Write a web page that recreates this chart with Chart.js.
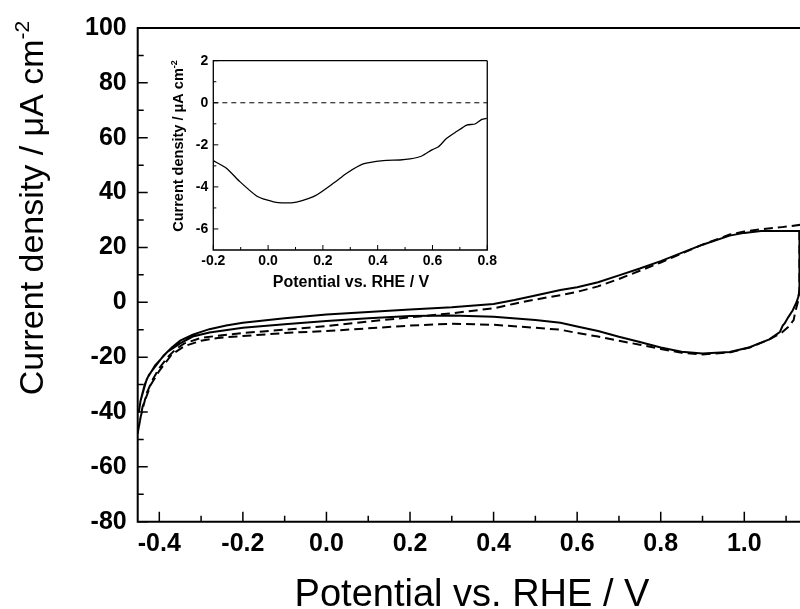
<!DOCTYPE html>
<html>
<head>
<meta charset="utf-8">
<script src="https://cdn.jsdelivr.net/npm/chart.js@4.4.1/dist/chart.umd.min.js"></script>
<style>
  html, body { margin: 0; padding: 0; background: #fff; }
  #wrap  { position: relative; width: 800px; height: 609px; overflow: hidden; }
  #main  { position: absolute; left: 0; top: 0; }
  #inset { position: absolute; left: 160px; top: 45px; }
</style>
</head>
<body>
<div id="wrap">
  <canvas id="main" width="800" height="609"></canvas>
  <canvas id="inset" width="340" height="250"></canvas>
</div>
<script>
/* ------------------------------------------------------------
   DATOS — voltamperometrías (potencial V vs RHE, densidad µA cm-2)
------------------------------------------------------------ */
const cvSolidV = [
  -0.449, -0.445, -0.435, -0.425, -0.41, -0.39, -0.37, -0.35, -0.32, -0.28, -0.24, -0.2,
  -0.1, 0.0, 0.1, 0.2, 0.3, 0.4, 0.45, 0.5, 0.56, 0.6, 0.65, 0.7, 0.75, 0.8, 0.85, 0.9,
  0.965, 1.0, 1.04, 1.1, 1.132, 1.132, 1.125, 1.116, 1.105, 1.097, 1.092, 1.085, 1.06,
  1.037, 1.013, 0.965, 0.9, 0.85, 0.8, 0.75, 0.7, 0.65, 0.6, 0.56, 0.5, 0.4, 0.3, 0.2,
  0.1, 0.0, -0.1, -0.2, -0.28, -0.32, -0.35, -0.38, -0.41, -0.43, -0.445, -0.449,
];
const cvSolidJ = [
  -40, -36, -30, -26.5, -23.5, -19.5, -16.5, -14, -11.8, -9.8, -8.5, -7.5,
  -5.8, -4.5, -3.5, -2.6, -1.8, -0.6, 0.8, 2.5, 4.5, 5.5, 7.3, 9.8, 12.3, 15, 18, 21,
  24.3, 25.3, 26, 26, 26, 3.3, 0, -2.9, -5.5, -7.6, -8.5, -10.9, -13.5,
  -14.9, -16.4, -18.1, -18.7, -18, -16.5, -14.5, -12.6, -10.5, -8.8, -7.5, -6.5, -5.3, -4.8, -5,
  -5.8, -6.8, -8, -9.3, -11, -12.5, -15, -18, -23, -28, -36, -40,
];

const cvDashV = [
  -0.452, -0.445, -0.43, -0.415, -0.4, -0.38, -0.36, -0.34, -0.3, -0.25, -0.2, -0.1,
  0.0, 0.1, 0.2, 0.3, 0.4, 0.45, 0.5, 0.56, 0.6, 0.65, 0.7, 0.75, 0.8, 0.85, 0.9,
  0.965, 1.0, 1.04, 1.09, 1.132, 1.132, 1.128, 1.122, 1.118, 1.105, 1.09, 1.06, 1.037,
  1.013, 0.965, 0.9, 0.85, 0.8, 0.75, 0.7, 0.65, 0.6, 0.56, 0.5, 0.4, 0.3, 0.2, 0.1,
  0.0, -0.1, -0.2, -0.26, -0.3, -0.34, -0.37, -0.4, -0.42, -0.44, -0.452,
];
const cvDashJ = [
  -48, -42, -33, -28, -24, -20, -17, -15, -13, -12, -11.2, -10,
  -8.7, -7, -5.5, -4, -2.2, -0.5, 1, 2.6, 3.8, 5.8, 8.5, 11.5, 14.5, 17.8, 21,
  24.7, 25.8, 26.6, 27.4, 28.2, 5, 0, -3.5, -6.5, -9, -11, -13.5, -15,
  -16.5, -18.3, -19, -18.4, -17, -15.5, -14, -12.5, -11.2, -10, -9.3, -8.2, -7.8, -8.5, -9.5,
  -10.5, -11.2, -12.3, -13, -14, -16, -19, -25, -30, -38, -48,
];

/* inserto: diferencia de densidad de corriente */
const insetV = [
  -0.2, -0.151, -0.103, -0.042, -0.005, 0.037, 0.104, 0.171, 0.238, 0.287, 0.347, 0.42,
  0.481, 0.518, 0.561, 0.598, 0.622, 0.652, 0.688, 0.725, 0.755, 0.78, 0.798,
];
const insetJ = [
  -2.75, -3.12, -3.75, -4.43, -4.62, -4.75, -4.72, -4.43, -3.83, -3.35, -2.91, -2.75,
  -2.72, -2.67, -2.53, -2.24, -2.09, -1.69, -1.37, -1.06, -1.01, -0.79, -0.74,
];
const insetZeroV = [-0.2, 0.8];
const insetZeroJ = [0, 0];

/* ticks */
const mainXTicks  = [-0.4, -0.2, 0.0, 0.2, 0.4, 0.6, 0.8, 1.0];
const mainXMinor  = [-0.3, -0.1, 0.1, 0.3, 0.5, 0.7, 0.9, 1.1];
const mainYTicks  = [-80, -60, -40, -20, 0, 20, 40, 60, 80, 100];
const mainYMinor  = [-70, -50, -30, -10, 10, 30, 50, 70, 90];
const insetXTicks = [-0.2, 0.0, 0.2, 0.4, 0.6, 0.8];
const insetXMinor = [-0.1, 0.1, 0.3, 0.5, 0.7];
const insetYTicks = [-6, -4, -2, 0, 2];
const insetYMinor = [-5, -3, -1, 1];

const FONT = "'Liberation Sans', Arial, sans-serif";

/* ------------------------------------------------------------
   HELPERS
------------------------------------------------------------ */
function pts(xs, ys) {
  return xs.map((x, i) => ({ x, y: ys[i] }));
}

// marcas hacia dentro + marco del área
const frameTicks = {
  id: 'frameTicks',
  afterDatasetsDraw(chart, args, o) {
    const { ctx, chartArea: a, scales: { x, y } } = chart;
    ctx.save();
    ctx.strokeStyle = '#000';
    ctx.lineWidth = o.lineWidth;
    ctx.beginPath();
    const tx = (vals, len) => vals.forEach(v => {
      const p = x.getPixelForValue(v);
      ctx.moveTo(p, a.bottom); ctx.lineTo(p, a.bottom - len);
    });
    const ty = (vals, len) => vals.forEach(v => {
      const p = y.getPixelForValue(v);
      ctx.moveTo(a.left, p); ctx.lineTo(a.left + len, p);
    });
    tx(o.xMajor, o.major); tx(o.xMinor, o.minor);
    ty(o.yMajor, o.major); ty(o.yMinor, o.minor);
    ctx.stroke();

    ctx.lineWidth = o.frameWidth;
    ctx.beginPath();
    ctx.moveTo(a.right + (o.right ? 0 : 10), a.top);
    ctx.lineTo(a.left, a.top);
    ctx.lineTo(a.left, a.bottom);
    ctx.lineTo(a.right + (o.right ? 0 : 10), a.bottom);
    if (o.right) { ctx.lineTo(a.right, a.top); }
    ctx.stroke();
    ctx.restore();
  },
};

// títulos de ejes (con superíndice)
const axisTitles = {
  id: 'axisTitles',
  afterDraw(chart, args, o) {
    const { ctx } = chart;
    ctx.save();
    ctx.fillStyle = '#000';
    ctx.textBaseline = 'alphabetic';

    // eje x
    ctx.font = `${o.weight} ${o.xSize}px ${FONT}`;
    ctx.textAlign = 'center';
    ctx.fillText(o.xText, o.xPos[0], o.xPos[1]);

    // eje y, girado
    ctx.translate(o.yPos[0], o.yPos[1]);
    ctx.rotate(-Math.PI / 2);
    ctx.textAlign = 'left';
    ctx.font = `${o.weight} ${o.ySize}px ${FONT}`;
    const w1 = ctx.measureText(o.yText).width;
    const supSize = Math.round(o.ySize * 0.62);
    ctx.font = `${o.weight} ${supSize}px ${FONT}`;
    const w2 = ctx.measureText(o.ySup).width;
    const start = -(w1 + w2) / 2;
    ctx.font = `${o.weight} ${o.ySize}px ${FONT}`;
    ctx.fillText(o.yText, start, 0);
    ctx.font = `${o.weight} ${supSize}px ${FONT}`;
    ctx.fillText(o.ySup, start + w1, -o.ySize * 0.42);
    ctx.restore();
  },
};

/* ------------------------------------------------------------
   GRÁFICO PRINCIPAL
------------------------------------------------------------ */
new Chart(document.getElementById('main').getContext('2d'), {
  type: 'scatter',
  data: {
    datasets: [
      {
        data: pts(cvSolidV, cvSolidJ),
        showLine: true, pointRadius: 0,
        borderColor: '#000', borderWidth: 2, tension: 0,
      },
      {
        data: pts(cvDashV, cvDashJ),
        showLine: true, pointRadius: 0,
        borderColor: '#000', borderWidth: 2, borderDash: [9, 5], tension: 0,
      },
    ],
  },
  options: {
    responsive: false,
    animation: false,
    layout: { padding: { top: 28, right: 0, left: 0, bottom: 0 } },
    plugins: {
      legend: { display: false },
      tooltip: { enabled: false },
      frameTicks: {
        lineWidth: 1.5, frameWidth: 2, major: 10, minor: 6, right: false,
        xMajor: mainXTicks, xMinor: mainXMinor, yMajor: mainYTicks, yMinor: mainYMinor,
      },
      axisTitles: {
        weight: 'normal', xSize: 38, ySize: 34,
        xText: 'Potential vs. RHE / V', xPos: [472, 606],
        yText: 'Current density / \u03bcA cm', ySup: '-2', yPos: [43, 208],
      },
    },
    scales: {
      x: {
        type: 'linear', min: -0.4517, max: 1.1333,
        afterBuildTicks: s => { s.ticks = mainXTicks.map(v => ({ value: v })); },
        afterFit: s => { s.height = 87.3; },
        grid: { display: false, drawTicks: false },
        border: { display: false },
        ticks: {
          autoSkip: false, maxRotation: 0, padding: 7, color: '#000',
          font: { family: FONT, size: 25, weight: 'bold' },
          callback: v => Number(v).toFixed(1),
        },
      },
      y: {
        type: 'linear', min: -80, max: 100,
        afterBuildTicks: s => { s.ticks = mainYTicks.map(v => ({ value: v })); },
        afterFit: s => { s.width = 137.7; },
        grid: { display: false, drawTicks: false },
        border: { display: false },
        ticks: {
          autoSkip: false, padding: 11, color: '#000',
          font: { family: FONT, size: 25, weight: 'bold' },
          callback: v => String(v),
        },
      },
    },
  },
  plugins: [frameTicks, axisTitles],
});

/* ------------------------------------------------------------
   INSERTO
------------------------------------------------------------ */
new Chart(document.getElementById('inset').getContext('2d'), {
  type: 'scatter',
  data: {
    datasets: [
      {
        data: pts(insetZeroV, insetZeroJ),
        showLine: true, pointRadius: 0,
        borderColor: '#000', borderWidth: 1, borderDash: [5, 4],
      },
      {
        data: pts(insetV, insetJ),
        showLine: true, pointRadius: 0,
        borderColor: '#000', borderWidth: 1.3, tension: 0.2,
      },
    ],
  },
  options: {
    responsive: false,
    animation: false,
    layout: { padding: { top: 15.7, right: 12.7, left: 0, bottom: 0 } },
    plugins: {
      legend: { display: false },
      tooltip: { enabled: false },
      frameTicks: {
        lineWidth: 1, frameWidth: 1.3, major: 5, minor: 3, right: true,
        xMajor: insetXTicks, xMinor: insetXMinor, yMajor: insetYTicks, yMinor: insetYMinor,
      },
      axisTitles: {
        weight: 'bold', xSize: 16, ySize: 14.5,
        xText: 'Potential vs. RHE / V', xPos: [191, 242],
        yText: 'Current density / \u03bcA cm', ySup: '-2', yPos: [23, 101],
      },
    },
    scales: {
      x: {
        type: 'linear', min: -0.2, max: 0.8,
        afterBuildTicks: s => { s.ticks = insetXTicks.map(v => ({ value: v })); },
        afterFit: s => { s.height = 45; },
        grid: { display: false, drawTicks: false },
        border: { display: false },
        ticks: {
          autoSkip: false, maxRotation: 0, padding: 3, color: '#000',
          font: { family: FONT, size: 14, weight: 'bold' },
          callback: v => Number(v).toFixed(1),
        },
      },
      y: {
        type: 'linear', min: -7, max: 2,
        afterBuildTicks: s => { s.ticks = insetYTicks.map(v => ({ value: v })); },
        afterFit: s => { s.width = 53.3; },
        grid: { display: false, drawTicks: false },
        border: { display: false },
        ticks: {
          autoSkip: false, padding: 5, color: '#000',
          font: { family: FONT, size: 14, weight: 'bold' },
          callback: v => String(v),
        },
      },
    },
  },
  plugins: [frameTicks, axisTitles],
});
</script>
</body>
</html>
